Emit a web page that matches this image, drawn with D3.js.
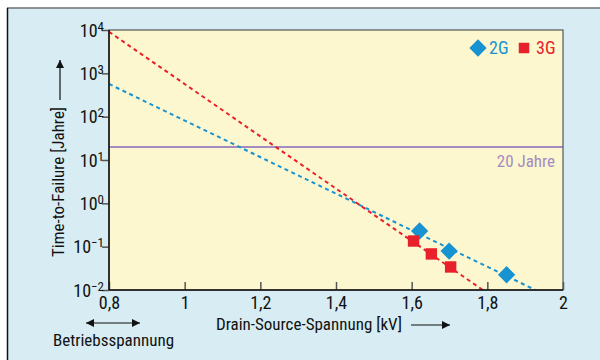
<!DOCTYPE html>
<html><head><meta charset="utf-8">
<script src="https://cdn.jsdelivr.net/npm/d3@7"></script>
<style>
body{margin:0;background:#fff;}
text{font-family:"Liberation Sans Narrow","Roboto Condensed","Arial Narrow",sans-serif;}
</style></head><body>
<svg id="c" width="600" height="360"></svg>
<script>
// Data
const xTicks = [0.8, 1.0, 1.2, 1.4, 1.6, 1.8, 2.0];
const xTickLabels = ["0,8", "1", "1,2", "1,4", "1,6", "1,8", "2"];
const yTickExps = [-2, -1, 0, 1, 2, 3, 4];
const seriesNames = ["2G", "3G"];
const v2G = [1.621, 1.699, 1.851];
const t2G = [0.23, 0.079, 0.0225];
const v3G = [1.605, 1.652, 1.703];
const t3G = [0.135, 0.068, 0.034];
const fit2G_v = [0.8, 1.927];
const fit2G_t = [568, 0.01];
const fit3G_v = [0.8, 1.788];
const fit3G_t = [9100, 0.01];
const limitYears = 20;
const limitLabel = "20 Jahre";

const blue = "#1793d2", red = "#e8202a", purple = "#a48bc2";
const svg = d3.select("#c");
const W = 600, H = 360;
const m = {l:109, t:30, r:563, b:290};

// panel
svg.append("rect").attr("x",7).attr("y",8).attr("width",W-7).attr("height",H-8).attr("fill","#d7ecf3");
svg.append("line").attr("x1",7).attr("x2",W).attr("y1",8).attr("y2",8).attr("stroke","#6b6f72").attr("stroke-width",1.5);
svg.append("line").attr("x1",7.5).attr("x2",7.5).attr("y1",8).attr("y2",H).attr("stroke","#111").attr("stroke-width",1.5);

const x = d3.scaleLinear().domain([0.8,2.0]).range([m.l,m.r]);
const y = d3.scaleLog().domain([0.01,10000]).range([m.b,m.t]);

svg.append("rect").attr("x",m.l).attr("y",m.t).attr("width",m.r-m.l).attr("height",m.b-m.t).attr("fill","#fdf7cf");

svg.append("clipPath").attr("id","pc").append("rect").attr("x",m.l).attr("y",m.t).attr("width",m.r-m.l).attr("height",m.b-m.t);

// 20 years line
svg.append("line").attr("x1",m.l).attr("x2",m.r).attr("y1",y(limitYears)).attr("y2",y(limitYears)).attr("stroke",purple).attr("stroke-width",2);
svg.append("text").attr("x",m.r-8).attr("y",y(limitYears)+20).attr("text-anchor","end").attr("fill",purple).attr("font-size",17).text(limitLabel);

// fit lines
const line = d3.line().x(d=>x(d[0])).y(d=>y(d[1]));
const g = svg.append("g").attr("clip-path","url(#pc)");
g.append("path").datum(d3.zip(fit2G_v, fit2G_t)).attr("d",line).attr("fill","none").attr("stroke",blue).attr("stroke-width",2).attr("stroke-dasharray","4,3.5");
g.append("path").datum(d3.zip(fit3G_v, fit3G_t)).attr("d",line).attr("fill","none").attr("stroke",red).attr("stroke-width",2).attr("stroke-dasharray","4,3.5");

// markers
const sym2 = d3.symbol().type(d3.symbolSquare).size(150);
svg.selectAll(".m2").data(d3.zip(v2G,t2G)).join("path")
  .attr("d",sym2).attr("transform",d=>`translate(${x(d[0])},${y(d[1])}) rotate(45)`).attr("fill",blue);
const sym3 = d3.symbol().type(d3.symbolSquare).size(130);
svg.selectAll(".m3").data(d3.zip(v3G,t3G)).join("path")
  .attr("d",sym3).attr("transform",d=>`translate(${x(d[0])},${y(d[1])})`).attr("fill",red);

// axes
const xa = d3.axisBottom(x).tickValues(xTicks).tickFormat((d,i)=>xTickLabels[i]).tickSizeInner(-8).tickSizeOuter(0).tickPadding(6);
const gx = svg.append("g").attr("transform",`translate(0,${m.b})`).call(xa);
gx.select(".domain").remove();
gx.selectAll(".tick line").attr("stroke","#555").attr("stroke-width",1.5);
gx.selectAll(".tick text").attr("font-size",18).attr("fill","#111");

const ya = d3.axisLeft(y).tickValues(yTickExps.map(e=>Math.pow(10,e))).tickSizeInner(7).tickSizeOuter(0).tickPadding(3).tickFormat("");
const gy = svg.append("g").attr("transform",`translate(${m.l},0)`).call(ya);
gy.select(".domain").remove();
gy.selectAll(".tick line").attr("stroke","#555").attr("stroke-width",1.5);
gy.selectAll(".tick").each(function(d,i){
  const t = d3.select(this).append("text").attr("x",-5).attr("y",6).attr("text-anchor","end").attr("fill","#111").attr("font-size",18);
  const e = yTickExps[i];
  t.append("tspan").text("10");
  t.append("tspan").attr("dy",-6).attr("font-size",13).text(e<0 ? "\u2212"+Math.abs(e) : String(e));
});

// frame
svg.append("rect").attr("x",m.l).attr("y",m.t).attr("width",m.r-m.l).attr("height",m.b-m.t).attr("fill","none").attr("stroke","#555").attr("stroke-width",1.2);
svg.append("line").attr("x1",m.l).attr("x2",m.l).attr("y1",m.t).attr("y2",m.b).attr("stroke","#111").attr("stroke-width",1.5);
svg.append("line").attr("x1",m.l).attr("x2",m.r).attr("y1",m.b).attr("y2",m.b).attr("stroke","#111").attr("stroke-width",1.5);

// arrowheads
const defs = svg.append("defs");
defs.append("marker").attr("id","ah").attr("viewBox","0 0 10 10").attr("refX",10).attr("refY",5).attr("markerWidth",10).attr("markerHeight",8).attr("markerUnits","userSpaceOnUse").attr("orient","auto-start-reverse")
  .append("path").attr("d","M0,0L10,5L0,10z").attr("fill","#111");

// axis titles
svg.append("text").attr("x",309).attr("y",330).attr("text-anchor","middle").attr("font-size",17).attr("fill","#111").text("Drain-Source-Spannung [kV]");
svg.append("line").attr("x1",411).attr("x2",450).attr("y1",325).attr("y2",325).attr("stroke","#111").attr("stroke-width",1.2).attr("marker-end","url(#ah)");

svg.append("text").attr("transform","translate(64,182) rotate(-90)").attr("text-anchor","middle").attr("font-size",17).attr("fill","#111").text("Time-to-Failure [Jahre]");
svg.append("line").attr("x1",60).attr("x2",60).attr("y1",100).attr("y2",60).attr("stroke","#111").attr("stroke-width",1.2).attr("marker-end","url(#ah)");

svg.append("text").attr("x",53).attr("y",346).attr("font-size",17).attr("fill","#111").text("Betriebsspannung");
svg.append("line").attr("x1",86).attr("x2",140).attr("y1",323).attr("y2",323).attr("stroke","#111").attr("stroke-width",1.2).attr("marker-end","url(#ah)").attr("marker-start","url(#ah)");

// legend
svg.append("path").attr("d",sym2).attr("transform","translate(478,48) rotate(45)").attr("fill",blue);
svg.append("text").attr("x",489).attr("y",54).attr("font-size",18).attr("fill",blue).text(seriesNames[0]);
svg.append("path").attr("d",d3.symbol().type(d3.symbolSquare).size(110)).attr("transform","translate(524,48)").attr("fill",red);
svg.append("text").attr("x",536).attr("y",54).attr("font-size",18).attr("fill",red).text(seriesNames[1]);
</script>
</body></html>
